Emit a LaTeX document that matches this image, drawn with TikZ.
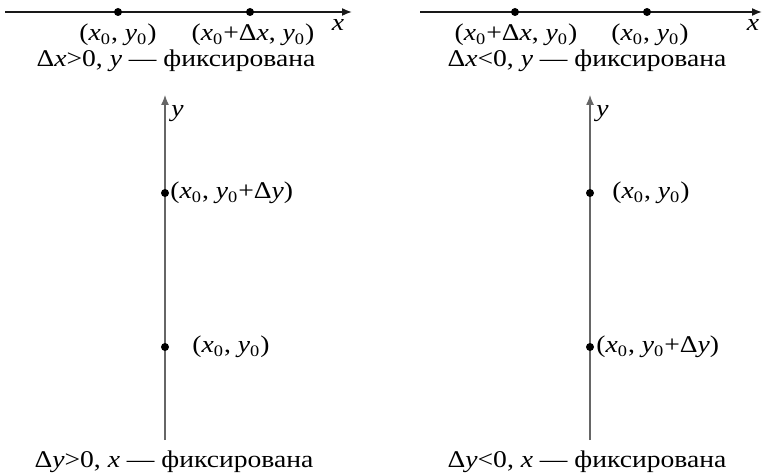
\documentclass[tikz,border=0pt]{standalone}
\usepackage{fontspec}
\setmainfont[FakeStretch=1.15]{Liberation Serif}
\usetikzlibrary{arrows.meta}
\tikzset{
  haxis/.style={-{Latex[length=5pt,width=4pt]}, line width=0.8pt, draw=black!90},
  vaxis/.style={-{Latex[length=5pt,width=4pt]}, line width=0.6pt, draw=black!60},
  dot/.style={circle, fill=black, inner sep=0pt, minimum size=4pt},
  lbl/.style={font=\fontsize{12}{14}\selectfont, inner sep=0pt}
}
\newcommand{\vx}{\textit{x}}
\newcommand{\vy}{\textit{y}}
\newcommand{\xo}{\textit{x}\textsubscript{0}}
\newcommand{\yo}{\textit{y}\textsubscript{0}}

\begin{document}
\begin{tikzpicture}[x=0.5pt, y=-0.5pt]
\useasboundingbox (0,0) rectangle (763,475);
% dx > 0
\coordinate (xs1) at (5,12);
\coordinate (xe1) at (352,12);
\draw[haxis] (xs1) -- (xe1);
\node[dot] (pa) at (118,12) {};
\node[dot] (pb) at (250,12) {};
\node[lbl, anchor=base] (pal) at (118,41) {(\xo, \yo)};
\node[lbl, anchor=base] (pbl) at (253,41) {(\xo+Δ\vx, \yo)};
\node[lbl, anchor=base] (xa) at (338,31) {\vx};
\node[lbl, anchor=base] (capa) at (176,67) {Δ\vx>0, \vy\ — фиксирована};
% dx < 0
\coordinate (xs2) at (420,12);
\coordinate (xe2) at (762,12);
\draw[haxis] (xs2) -- (xe2);
\node[dot] (pc) at (515,12) {};
\node[dot] (pd) at (647,12) {};
\node[lbl, anchor=base] (pcl) at (516,41) {(\xo+Δ\vx, \yo)};
\node[lbl, anchor=base] (pdl) at (650,41) {(\xo, \yo)};
\node[lbl, anchor=base] (xb) at (753,31) {\vx};
\node[lbl, anchor=base] (capb) at (587,67) {Δ\vx<0, \vy\ — фиксирована};
% dy > 0
\coordinate (ys1) at (165,440);
\coordinate (ye1) at (165,95);
\draw[vaxis] (ys1) -- (ye1);
\node[lbl, anchor=base west] (ya) at (171,117) {\vy};
\node[dot] (pe) at (165,193) {};
\node[dot] (pf) at (165,347) {};
\node[lbl, anchor=west] (pel) at (170,193) {(\xo, \yo+Δ\vy)};
\node[lbl, anchor=west] (pfl) at (192,347) {(\xo, \yo)};
\node[lbl, anchor=base] (capc) at (174,467) {Δ\vy>0, \vx\ — фиксирована};
% dy < 0
\coordinate (ys2) at (590,440);
\coordinate (ye2) at (590,95);
\draw[vaxis] (ys2) -- (ye2);
\node[lbl, anchor=base west] (yb) at (596,117) {\vy};
\node[dot] (pg) at (590,193) {};
\node[dot] (ph) at (590,347) {};
\node[lbl, anchor=west] (pgl) at (612,193) {(\xo, \yo)};
\node[lbl, anchor=west] (phl) at (596,347) {(\xo, \yo+Δ\vy)};
\node[lbl, anchor=base] (capd) at (587,467) {Δ\vy<0, \vx\ — фиксирована};
\end{tikzpicture}
\end{document}
